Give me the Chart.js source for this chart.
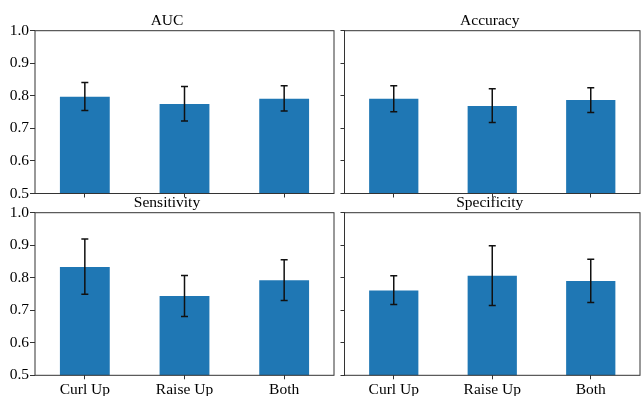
<!DOCTYPE html>
<html>
<head>
<meta charset="utf-8">
<script src="https://cdn.jsdelivr.net/npm/chart.js@4/dist/chart.umd.min.js"></script>
<style>
  html, body { margin: 0; padding: 0; background: #ffffff; }
  #wrap { position: relative; width: 641px; height: 396px; overflow: hidden; }
  #wrap canvas { position: absolute; left: 0; top: 0; }
</style>
</head>
<body>
<div id="wrap">
  <canvas id="c0" width="641" height="396"></canvas>
  <canvas id="c1" width="641" height="396"></canvas>
  <canvas id="c2" width="641" height="396"></canvas>
  <canvas id="c3" width="641" height="396"></canvas>
</div>
<script>
// ---- data ----
const categories = ['Curl Up', 'Raise Up', 'Both'];
const yTickValues = [0.5, 0.6, 0.7, 0.8, 0.9, 1.0];
const panelTitles = ['AUC', 'Accuracy', 'Sensitivity', 'Specificity'];

const aucMean  = [0.797, 0.775, 0.791];
const aucLow   = [0.755, 0.723, 0.753];
const aucHigh  = [0.841, 0.829, 0.831];

const accMean  = [0.791, 0.769, 0.787];
const accLow   = [0.751, 0.718, 0.749];
const accHigh  = [0.831, 0.822, 0.825];

const senMean  = [0.833, 0.744, 0.792];
const senLow   = [0.749, 0.681, 0.730];
const senHigh  = [0.919, 0.807, 0.855];

const speMean  = [0.761, 0.806, 0.790];
const speLow   = [0.718, 0.715, 0.724];
const speHigh  = [0.806, 0.898, 0.857];

const yMin = 0.5, yMax = 1.0;

// ---- drawing ----
const FONT = "'Liberation Serif', 'Times New Roman', serif";
const FONT_SIZE = 15.5;

const framePlugin = {
  id: 'frame',
  afterDraw(chart) {
    const a = chart.chartArea, ctx = chart.ctx;
    ctx.save();
    ctx.strokeStyle = '#333333';
    ctx.lineWidth = 1;
    ctx.strokeRect(a.left, a.top, a.right - a.left, a.bottom - a.top);
    ctx.restore();
  }
};

const errorBarPlugin = {
  id: 'errbars',
  afterDatasetsDraw(chart, args, opts) {
    const ctx = chart.ctx;
    const meta = chart.getDatasetMeta(0);
    const ys = chart.scales.y;
    ctx.save();
    ctx.strokeStyle = '#111111';
    ctx.lineWidth = 1.5;
    meta.data.forEach((bar, i) => {
      const x = bar.x;
      const yl = ys.getPixelForValue(opts.low[i]);
      const yh = ys.getPixelForValue(opts.high[i]);
      ctx.beginPath();
      ctx.moveTo(x, yl); ctx.lineTo(x, yh);
      ctx.moveTo(x - 3.5, yl); ctx.lineTo(x + 3.5, yl);
      ctx.moveTo(x - 3.5, yh); ctx.lineTo(x + 3.5, yh);
      ctx.stroke();
    });
    ctx.restore();
  }
};

function makePanel(id, title, mean, low, high, col, row) {
  const leftCol = col === 0;
  const bottomRow = row === 1;
  const area = {
    left: leftCol ? 35 : 344.5,
    right: leftCol ? 334 : 640,
    top: bottomRow ? 212.7 : 30.7,
    bottom: bottomRow ? 375.3 : 193.5
  };
  const yAxisW = leftCol ? 35 : 5;
  const xAxisH = bottomRow ? 20.7 : 4;
  const titleBlock = 19.5;
  new Chart(document.getElementById(id), {
    type: 'bar',
    data: {
      labels: categories,
      datasets: [{
        data: mean,
        backgroundColor: '#1f77b4',
        borderWidth: 0,
        barPercentage: 0.5,
        categoryPercentage: 1.0
      }]
    },
    options: {
      responsive: false,
      animation: false,
      devicePixelRatio: 1,
      layout: {
        padding: {
          left: area.left - yAxisW,
          right: 641 - area.right,
          top: area.top - titleBlock,
          bottom: 396 - area.bottom - xAxisH
        }
      },
      plugins: {
        legend: { display: false },
        tooltip: { enabled: false },
        title: {
          display: true,
          text: title,
          color: '#000000',
          font: { family: FONT, size: FONT_SIZE, weight: 'normal', lineHeight: 1.2 },
          padding: { top: 0, bottom: titleBlock - FONT_SIZE * 1.2 }
        },
        errbars: { low: low, high: high }
      },
      scales: {
        x: {
          type: 'category',
          offset: true,
          grid: { display: true, drawOnChartArea: false, drawTicks: true, tickLength: 4, offset: false, color: '#333333' },
          border: { display: false },
          ticks: {
            display: bottomRow,
            color: '#000000',
            padding: 1,
            maxRotation: 0,
            font: { family: FONT, size: FONT_SIZE }
          },
          afterFit(s) { s.height = xAxisH; }
        },
        y: {
          min: yMin,
          max: yMax,
          grid: { display: true, drawOnChartArea: false, drawTicks: true, tickLength: leftCol ? 5 : 4, color: '#333333' },
          border: { display: false },
          afterBuildTicks(s) { s.ticks = yTickValues.map(v => ({ value: v })); },
          ticks: {
            display: leftCol,
            color: '#000000',
            padding: 1,
            font: { family: FONT, size: FONT_SIZE },
            callback: v => Number(v).toFixed(1)
          },
          afterFit(s) { s.width = yAxisW; }
        }
      }
    },
    plugins: [framePlugin, errorBarPlugin]
  });
}

makePanel('c0', panelTitles[0], aucMean, aucLow, aucHigh, 0, 0);
makePanel('c1', panelTitles[1], accMean, accLow, accHigh, 1, 0);
makePanel('c2', panelTitles[2], senMean, senLow, senHigh, 0, 1);
makePanel('c3', panelTitles[3], speMean, speLow, speHigh, 1, 1);
</script>
</body>
</html>
